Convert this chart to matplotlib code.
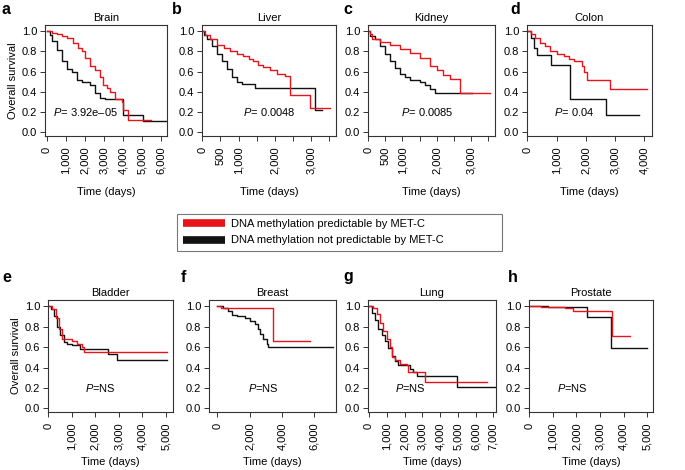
import numpy as np
import matplotlib.pyplot as plt
from matplotlib.lines import Line2D

plt.rcParams['font.family'] = ['Liberation Sans', 'DejaVu Sans']
plt.rcParams['mathtext.fontset'] = 'custom'
plt.rcParams['mathtext.it'] = 'Liberation Sans:italic'
plt.rcParams['mathtext.rm'] = 'Liberation Sans'

RED = '#e8141a'
BLACK = '#111111'

# survival curves: (time in days, survival after that time)
brain_red_t = [0, 300, 525, 800, 1050, 1400, 1660, 1840, 2010, 2270, 2535, 2800, 2970, 3150, 3320, 3580, 3930, 4020, 4280, 5500]
brain_red_s = [1.0, 0.98, 0.97, 0.95, 0.93, 0.88, 0.83, 0.80, 0.73, 0.66, 0.62, 0.55, 0.47, 0.44, 0.40, 0.33, 0.30, 0.22, 0.12, 0.12]
brain_blk_t = [0, 150, 300, 525, 790, 1050, 1310, 1570, 1840, 2270, 2535, 2800, 3060, 4000, 5070, 6290]
brain_blk_s = [1.0, 0.96, 0.90, 0.81, 0.70, 0.63, 0.60, 0.52, 0.50, 0.47, 0.39, 0.34, 0.33, 0.17, 0.11, 0.11]

liver_red_t = [0, 60, 210, 400, 600, 760, 950, 1130, 1280, 1410, 1550, 1680, 1870, 2050, 2280, 2420, 2980, 3520]
liver_red_s = [1.0, 0.96, 0.92, 0.86, 0.83, 0.80, 0.77, 0.75, 0.72, 0.70, 0.67, 0.65, 0.62, 0.58, 0.56, 0.37, 0.24, 0.24]
liver_blk_t = [0, 40, 120, 260, 400, 530, 670, 810, 950, 1090, 1450, 3110, 3290]
liver_blk_s = [1.0, 0.96, 0.92, 0.85, 0.77, 0.70, 0.63, 0.55, 0.50, 0.48, 0.44, 0.22, 0.22]

kidney_red_t = [0, 50, 100, 340, 640, 930, 1220, 1515, 1810, 2000, 2200, 2400, 2690, 3570]
kidney_red_s = [1.0, 0.97, 0.92, 0.89, 0.86, 0.82, 0.78, 0.73, 0.66, 0.62, 0.57, 0.53, 0.39, 0.39]
kidney_blk_t = [0, 50, 195, 340, 490, 635, 780, 930, 1075, 1220, 1515, 1660, 1810, 1955, 3050]
kidney_blk_s = [1.0, 0.95, 0.92, 0.85, 0.77, 0.70, 0.64, 0.58, 0.55, 0.52, 0.50, 0.47, 0.43, 0.39, 0.39]

colon_red_t = [0, 115, 280, 450, 620, 790, 1020, 1250, 1420, 1590, 1870, 1930, 2040, 2830, 4080]
colon_red_s = [1.0, 0.97, 0.93, 0.88, 0.85, 0.80, 0.77, 0.75, 0.72, 0.70, 0.66, 0.60, 0.52, 0.43, 0.43]
colon_blk_t = [0, 115, 225, 340, 815, 1450, 2700, 3800]
colon_blk_s = [1.0, 0.93, 0.83, 0.76, 0.67, 0.33, 0.17, 0.17]

bladder_red_t = [0, 170, 310, 450, 590, 1010, 1225, 1440, 1510, 5030]
bladder_red_s = [1.0, 0.97, 0.88, 0.78, 0.68, 0.66, 0.63, 0.60, 0.55, 0.55]
bladder_blk_t = [0, 100, 240, 380, 520, 660, 800, 1010, 1370, 2560, 2915, 5030]
bladder_blk_s = [1.0, 0.97, 0.90, 0.80, 0.72, 0.65, 0.63, 0.62, 0.58, 0.53, 0.47, 0.47]

breast_red_t = [0, 200, 3480, 5750]
breast_red_s = [1.0, 0.98, 0.66, 0.66]
breast_blk_t = [0, 370, 680, 890, 1200, 1720, 2030, 2340, 2550, 2650, 2860, 3060, 3170, 7200]
breast_blk_s = [1.0, 0.98, 0.95, 0.91, 0.90, 0.88, 0.85, 0.83, 0.78, 0.73, 0.68, 0.63, 0.60, 0.60]

lung_red_t = [0, 240, 430, 620, 810, 990, 1180, 1275, 1460, 1740, 2120, 2200, 3150, 6620]
lung_red_s = [1.0, 0.98, 0.92, 0.84, 0.76, 0.68, 0.60, 0.50, 0.47, 0.43, 0.42, 0.36, 0.26, 0.26]
lung_blk_t = [0, 150, 340, 525, 710, 900, 1090, 1275, 1460, 1650, 2310, 2500, 2680, 4930, 7090]
lung_blk_s = [1.0, 0.93, 0.86, 0.78, 0.72, 0.66, 0.59, 0.51, 0.46, 0.42, 0.39, 0.36, 0.32, 0.21, 0.21]

prostate_red_t = [0, 500, 1000, 1500, 1860, 3490, 4270]
prostate_red_s = [1.0, 0.995, 0.99, 0.98, 0.95, 0.71, 0.71]
prostate_blk_t = [0, 800, 2460, 3450, 5000]
prostate_blk_s = [1.0, 0.99, 0.89, 0.59, 0.59]

titles = ['Brain', 'Liver', 'Kidney', 'Colon', 'Bladder', 'Breast', 'Lung', 'Prostate']
letters = ['a', 'b', 'c', 'd', 'e', 'f', 'g', 'h']
pvals = ['$P$= 3.92e\u201305', '$P$= 0.0048', '$P$= 0.0085', '$P$= 0.04',
         '$P$=NS', '$P$=NS', '$P$=NS', '$P$=NS']
curves = [
    (brain_red_t, brain_red_s, brain_blk_t, brain_blk_s),
    (liver_red_t, liver_red_s, liver_blk_t, liver_blk_s),
    (kidney_red_t, kidney_red_s, kidney_blk_t, kidney_blk_s),
    (colon_red_t, colon_red_s, colon_blk_t, colon_blk_s),
    (bladder_red_t, bladder_red_s, bladder_blk_t, bladder_blk_s),
    (breast_red_t, breast_red_s, breast_blk_t, breast_blk_s),
    (lung_red_t, lung_red_s, lung_blk_t, lung_blk_s),
    (prostate_red_t, prostate_red_s, prostate_blk_t, prostate_blk_s),
]
xticks = [
    (list(range(0, 7000, 1000)), list(range(0, 7000, 1000))),
    (list(range(0, 4000, 500)), [0, 500, 1000, 2000, 3000]),
    (list(range(0, 4000, 500)), [0, 500, 1000, 2000, 3000]),
    (list(range(0, 5000, 1000)), list(range(0, 5000, 1000))),
    (list(range(0, 6000, 1000)), list(range(0, 6000, 1000))),
    ([0, 2000, 4000, 6000], [0, 2000, 4000, 6000]),
    (list(range(0, 8000, 1000)), list(range(0, 8000, 1000))),
    (list(range(0, 6000, 1000)), list(range(0, 6000, 1000))),
]
xlims = [(-90, 6320), (-10, 3690), (-10, 3710), (-10, 4260),
         (-10, 5300), (-515, 7360), (-56, 7150), (-10, 5240)]
p_xpos = [0.33, 0.5, 0.47, 0.38, 0.42, 0.43, 0.33, 0.35]

# axes boxes in pixels: left, right, top, bottom
W, H = 685, 470
boxes = [(45, 167, 25, 136), (202, 336, 25, 136), (368, 495, 25, 136), (527, 652, 25, 136),
         (48, 173, 300, 412), (209, 336, 300, 412), (368, 496, 300, 412), (529, 653, 300, 412)]
xlabel_y = [192, 192, 192, 192, 462, 462, 462, 462]
letter_pos = [(2, 9), (172, 9), (343, 9), (510, 9),
              (2, 277), (181, 277), (343, 277), (508, 277)]

fig = plt.figure(figsize=(6.85, 4.7), dpi=100)

for i in range(8):
    l, r, t, b = boxes[i]
    ax = fig.add_axes([l / W, 1 - b / H, (r - l) / W, (b - t) / H])
    rt, rs, bt, bs = curves[i]
    ax.plot(bt, bs, color=BLACK, lw=1.0, drawstyle='steps-post')
    ax.plot(rt, rs, color=RED, lw=1.0, drawstyle='steps-post')
    ax.set_xlim(*xlims[i])
    ax.set_ylim(-0.035, 1.06)
    ax.set_yticks([0, 0.2, 0.4, 0.6, 0.8, 1.0])
    ax.set_yticklabels(['0.0', '0.2', '0.4', '0.6', '0.8', '1.0'])
    ticks, labelled = xticks[i]
    ax.set_xticks(ticks)
    ax.set_xticklabels([f'{v:,}' if v in labelled else '' for v in ticks], rotation=90)
    ax.tick_params(labelsize=8, length=3.5, width=0.7, color='#333333')
    ax.tick_params(axis='x', pad=4)
    ax.tick_params(axis='y', pad=2)
    for sp in ax.spines.values():
        sp.set_linewidth(0.8)
        sp.set_color('#333333')
    ax.set_title(titles[i], fontsize=8, pad=3)
    ax.set_xlabel('Time (days)', fontsize=8, va='center')
    ax.xaxis.set_label_coords(0.5, -(xlabel_y[i] - b) / (b - t))
    if i in (0, 4):
        ax.set_ylabel('Overall survival', fontsize=8, labelpad=3)
    # P value: x in axes fraction, y in data units
    ax.text(p_xpos[i], 0.2, pvals[i], transform=ax.get_yaxis_transform(),
            fontsize=8, ha='center', va='center')
    lx, ly = letter_pos[i]
    fig.text(lx / W, 1 - ly / H, letters[i], fontsize=11.5, fontweight='bold', va='center')

handles = [Line2D([0], [0], color=RED, lw=5.5, solid_capstyle='butt'),
           Line2D([0], [0], color=BLACK, lw=5.5, solid_capstyle='butt')]
labels = ['DNA methylation predictable by MET-C', 'DNA methylation not predictable by MET-C']
leg = fig.legend(handles, labels, loc='lower left',
                 bbox_to_anchor=(177 / W, 1 - 251 / H, 325 / W, 39 / H), mode='expand',
                 fontsize=8, handlelength=3.8, fancybox=False, edgecolor='#555555',
                 borderaxespad=0, labelspacing=0.55, handletextpad=0.6, borderpad=0.5)
leg.get_frame().set_linewidth(0.8)

fig.savefig('out.png', dpi=100)
